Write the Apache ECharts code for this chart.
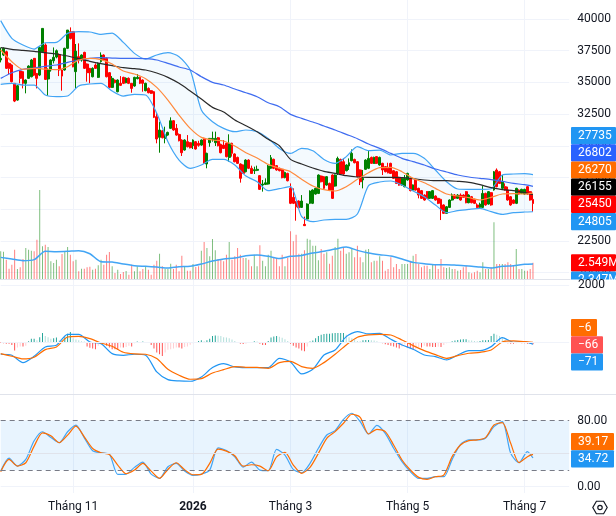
<!DOCTYPE html>
<html><head><meta charset="utf-8">
<style>html,body{margin:0;padding:0;background:#fff}#c{width:616px;height:516px}</style>
<script src="https://cdn.jsdelivr.net/npm/echarts@6/dist/echarts.min.js"></script>
</head><body><div id="c"></div>
<script>
const opens=[36770,37160,37420,36500,36370,34930,33610,35900,35850,34930,
35320,35450,36900,35710,35580,37420,37950,35270,35980,36710,
37000,37210,35980,35980,37690,39000,39000,35850,37030,36770,
37370,36450,36110,35450,36370,35400,36640,37160,36900,35770,
34610,35190,34270,34930,35400,34980,35320,34930,34720,35300,
35400,35190,34350,34530,34350,34270,32300,30670,31190,30590,
30850,31380,31980,31380,30900,30460,29670,30330,30250,30010,
30330,30200,30060,30590,28570,30250,30510,30250,30640,30120,
30060,30200,29090,30200,29360,29090,28570,28490,27960,28880,
28230,28040,28070,27650,26910,26960,26990,28230,28940,28440,
28230,28150,27490,27830,26650,25940,25600,25650,25150,23810,
24230,25470,25470,26200,26250,27620,27570,26910,27040,27700,
26830,27830,28930,28750,28040,28410,28830,28930,28750,28100,
27310,28150,28230,29090,28620,29150,28490,28620,28360,28230,
28620,28040,27960,27520,26910,26780,27310,27440,26520,27310,
26650,26470,26120,26390,25860,25860,26040,25860,25780,25340,
24680,25150,25730,26120,25860,26120,26120,26390,25520,25990,
25780,25340,25150,25150,26250,25410,26310,26520,28090,27960,
26650,26780,26520,25990,25730,25470,26520,26250,26200,26780,
26390,25780];
const closes=[36900,37690,36110,36110,35060,33530,34740,35320,34930,35190,
36290,36770,35580,35320,37760,39260,35240,35980,36770,36980,
37500,35980,35500,37690,39130,38470,36240,37470,36770,37160,
36110,35770,35770,36110,36110,36500,37160,36770,35450,34610,
35320,34980,35190,34770,34930,35320,34930,34530,35400,35400,
34930,34930,34930,34190,34140,32250,30540,31250,30640,30850,
31060,31980,31250,30850,30410,29460,30460,29930,29850,30460,
29750,30040,30460,28620,29410,30590,30590,30590,30010,29460,
29800,29150,30200,29410,28750,28620,27440,27830,28880,28230,
27830,28120,28150,26570,26990,27090,28410,29070,28230,28100,
28040,27490,27910,27250,25470,25470,25200,25120,25650,23710,
25410,26440,26520,26650,27700,27170,26650,27570,26520,25860,
27700,29010,27780,27780,28490,28670,29410,28670,27570,27170,
27440,28880,29010,28620,29090,28620,29090,28100,27960,27880,
27830,27440,27040,26910,27440,27440,27830,26470,26910,26520,
26120,25860,25730,25860,26390,26470,25730,25470,24940,24680,
25200,25730,26120,25860,26120,25730,25940,25520,26120,25520,
25470,25150,25410,26250,25340,26390,25340,27960,26780,27040,
27170,26520,25730,25340,25470,26650,26200,26570,26570,26200,
25730,25450];
const highs=[37740,37760,37500,36580,36420,34930,34800,35900,35900,35240,
36350,36850,36920,35710,37820,39290,38080,36110,36820,37760,
37600,37290,36030,37740,39130,39340,39050,38030,38080,37210,
37420,36500,36110,36190,36500,36580,37370,37210,36980,35820,
35500,35240,35240,35500,35450,35400,35400,34930,35450,35660,
35450,35240,34980,34610,34400,34320,32610,31900,31250,31510,
31120,32250,32030,31720,30980,30510,30510,30850,30300,30510,
30380,30400,30510,30640,29460,30590,31120,31120,30700,30170,
30460,30250,30910,30250,29410,29150,28620,28540,28940,28940,
28440,28360,28440,27700,27310,27440,28490,29280,28990,28490,
28280,28200,27960,27880,27040,26650,25650,25700,26120,24420,
25470,26490,26570,26700,27750,27670,27620,27620,27100,27750,
27750,29150,28990,29010,28540,29010,29720,28990,28800,28150,
28100,28940,29670,29150,29150,29200,29150,28670,28410,28670,
28670,28100,28020,27570,27490,27700,27880,27490,26960,27360,
26700,26520,26180,26440,26440,26520,26100,25910,25830,25390,
25260,25780,26250,26200,26200,26250,26180,26440,26180,26050,
25830,25470,25520,26830,26310,26440,26360,28020,28220,28020,
27700,27040,26780,26050,25780,26700,26570,26620,26620,26830,
26440,26120];
const lows=[36580,37080,36060,35660,35000,33450,33560,34930,34530,34140,
35270,35400,35500,34530,35500,37340,35190,33950,35850,36500,
36900,35500,34350,35930,37630,38390,36190,34530,36500,36640,
36060,35060,34930,35400,36060,35350,36560,36690,35400,34560,
34560,34930,34220,34720,34870,34930,34870,34190,34660,35240,
34870,34270,34300,34140,34090,32190,30200,29460,30590,30200,
30800,31330,31190,30800,30350,29200,29620,29880,29800,29750,
29700,29930,30010,28570,28230,29930,30330,29990,29960,29410,
29750,29090,28750,29150,28700,28570,27100,27780,27910,28170,
27780,27780,28010,26520,26390,26910,26940,28170,28170,28040,
27990,27440,27440,27200,25410,25410,24100,25070,25100,23680,
24200,25410,25410,26150,26200,27120,26600,26860,26470,25810,
26780,27700,27730,27730,27990,28100,28780,28620,27520,26910,
26650,28100,28170,28570,28570,28570,28440,27700,27910,27830,
27780,27390,26990,26860,26860,26730,27250,26410,26470,26470,
25860,25810,25680,25810,25810,25810,25680,25410,24150,24630,
24630,25100,25680,25810,25810,25680,25890,25470,25470,25470,
25410,25100,25050,25100,25280,25360,25280,26470,26730,26990,
26600,26470,25680,25280,25410,25410,26150,26200,26150,26150,
25680,24810];
// volumes in millions
const volumes=[4.32,4.27,3.02,1.61,2.24,4.58,1.56,1.82,3.13,4.84,
4.58,4.43,4.32,6.15,13.9,5.10,5.36,5.0,2.76,2.5,
3.02,1.98,3.91,4.32,5.0,3.8,2.76,3.02,1.2,1.61,
1.61,1.82,1.93,1.46,1.61,2.14,3.02,2.24,3.8,4.22,
1.98,.94,1.46,.78,1.09,1.25,.68,2.24,1.2,1.98,
1.2,1.56,1.98,1.46,.68,2.24,2.86,3.96,1.98,1.56,
1.56,2.4,1.56,2.24,1.2,3.65,1.98,1.3,1.3,2.34,
1.88,1.98,4.43,5.78,4.84,3.54,6.25,4.48,3.13,3.02,
2.76,3.8,5.78,3.02,3.54,4.84,3.8,3.28,3.28,3.02,
1.98,3.8,1.98,5.26,2.86,1.98,3.8,4.43,3.28,3.28,
1.98,3.8,1.98,3.28,7.45,5.89,6.93,3.96,
3.96,4.48,6.3,6.15,5.21,5.21,2.92,4.69,3.96,4.17,2.4,3.65,5.0,6.3,4.43,5.0,3.96,4.17,4.69,3.39,5.21,3.39,2.6,4.58,4.69,2.6,2.86,2.86,3.54,2.86,1.3,1.56,3.39,1.82,2.34,1.56,2.34,2.34,2.34,2.86,3.65,3.91,2.34,1.82,2.08,2.08,1.56,2.34,2.24,1.56,3.13,1.82,1.72,1.82,1.56,1.56,1.3,1.41,1.82,2.08,1.04,.89,1.04,1.3,1.04,2.6,1.56,1.56,1.82,8.85,2.34,2.34,2.34,2.34,2.6,2.34,2.08,4.69,1.56,1.56,1.3,1.3,1.56,2.549];
// sampled every 4 bars (last sample = last bar)
const bbUpper=[39870,38475,37950,37630,38130,38160,38870,39000,38975,38790,38895,38160,37290,36845,37160,37345,37030,35980,32825,31900,31380,31115,31250,31115,30590,29800,
29409,29800,29620,28930,28620,29150,29935,29620,29670,29280,29410,29410,29015,28095,27175,26600,26570,26570,26620,27700,27780,27805,27735];
const bbLower=[34850,34927,34795,34795,34007,33876,33930,34717,34875,34927,34322,33928,34060,34007,32562,30328,28883,28226,28488,28935,28935,28488,27621,27174,26465,26622,
26781,24416,24022,24153,24206,24206,24626,26860,27149,27228,26912,26439,25993,25336,24731,24889,24994,25073,24810,24600,24731,24784,24805];
const maOrange=[37555,36635,36030,36110,36055,36005,36240,36767,36898,36793,36451,35900,35663,35295,34612,33613,32430,31380,30670,30460,30380,29985,29460,29040,28540,28225,
27964,27359,26834,26544,26439,26781,27359,27885,28279,28305,27964,27438,27097,26650,26203,26045,25914,25730,25940,26203,26229,26203,26270];
const maBlack=[37739,37607,37529,37450,37345,37240,37082,36872,36662,36478,36320,36162,36083,35978,35742,35400,34927,34322,33692,33035,32667,32036,31590,31116,30512,30013,
28936,28568,28253,27990,27832,27648,27543,27517,27517,27517,27490,27412,27307,27254,27254,27201,27123,26939,26702,26545,26466,26308,26155];
const maBlue=[35321,35768,36030,36136,36267,36372,36583,36767,36898,36950,36924,36898,36898,36872,36767,36504,36215,35978,35453,35006,34796,34480,34191,33876,33403,33087,
32484,32168,31879,31564,31249,30907,30565,30145,29803,29409,29015,28752,28489,28174,27937,27700,27543,27438,27333,27201,27044,26939,26802];
const volMA=[3.38,3.12,2.86,3.02,4.32,4.26,4.32,4.42,3.95,2.7,2.65,2.34,2.08,1.98,1.87,1.72,1.92,1.98,2.34,2.81,3.12,3.28,3.64,3.74,3.54,3.22,3.54,3.69,4.06,4.32,4.68,5.0,4.47,4.06,3.8,3.59,3.12,2.6,2.39,2.24,2.24,2.13,2.03,1.87,1.72,1.98,2.08,2.29,2.347];
const macdLine=[-419,-454,-711,-489,-163,-105,280,280,12,-47,-396,-454,-419,-454,-1037,-1305,-1351,-1363,-1212,-885,-746,-862,-885,-885,-885,-559,-687,
-1107,-944,-443,-268,198,373,291,315,105,-93,-245,-443,-501,-617,-443,-291,-291,-151,163,0,23,-71];
const signalLine=[-396,-489,-583,-524,-256,-163,186,210,128,-23,-140,-350,-408,-419,-571,-944,-1153,-1293,-1270,-1072,-955,-850,-874,-874,-909,-711,-664,
-850,-909,-711,-419,-93,175,256,280,256,82,-116,-291,-431,-559,-466,-384,-350,-268,12,47,23,-6];
const macdHist=[-24,-36,-48,-48,-96,-288,-180,-144,-144,-120,
36,120,120,72,180,324,216,180,120,144,
168,72,60,180,300,360,144,96,72,36,
24,-144,-192,-216,-240,-120,-48,-24,-120,-180,
-240,-240,-264,-180,-180,-168,-120,-144,-36,24,
-12,24,12,-24,-96,-216,-360,-420,-480,-360,
-264,-240,-216,-180,-180,-216,-168,-144,-84,-36,
12,48,72,36,72,120,216,240,228,216,
180,168,144,96,48,-24,-48,-60,-48,-24,
0,36,24,-48,-96,-96,48,168,204,216,
192,156,108,48,-48,-120,-180,-216,
-288,-312,-144,24,60,144,216,264,288,300,300,312,324,324,324,324,264,180,144,96,48,36,72,84,84,72,60,36,12,-36,-72,-96,-120,-144,-180,-216,-144,-72,-180,-216,-264,-240,-168,-180,-120,-144,-144,-168,-168,-156,-168,-96,-36,0,36,60,84,96,108,108,72,60,48,36,48,72,72,84,216,300,264,216,144,84,-36,-48,-48,-36,-24,-36,-36,-48,-60,-66];
// sampled every 3 bars (last sample = last bar)
const stochK=[18.9,34.6,25,33,55.6,66.5,59.6,53.2,66.5,74.5,59.2,43.5,41.1,39.5,14.9,15.3,23.4,29.8,15.3,10.1,24.2,28.2,18.9,13.7,15.3,20.1,47.1,43.9,36.2,23.8,29.8,20.1,19.3,45.1,38.3,20.9,16.9,
28.3,46.5,62.6,67.9,81.6,88.9,78.8,63.8,74.3,64.6,46.5,30.3,18.2,10.1,10.1,12.1,12.1,33.1,51.3,56.6,56.6,59,72.7,78.8,40.4,29.1,42.4,34.72];
const stochD=[18.1,33,25,29,49.1,65.2,61.6,53.2,62.4,73.3,60.4,46.3,41.1,39.1,26.2,15.7,20.1,28.2,18.9,10.1,20.9,29,20.5,14.5,14.9,28.2,45.5,43.1,37.5,25,26.6,25,19.3,36.2,41.5,26.2,16.1,
23.4,40.4,58.6,66.7,76.8,87.7,84,63.8,69.5,66.7,50.5,32.3,20.2,11.3,8.9,12.1,14.1,36.4,50.5,55.8,56.6,59.4,74.7,77.6,52.5,29.1,36.4,39.17];
const tickBars=[26,69,104,146,188];
const tickLabels=['Tháng 11','2026','Tháng 3','Tháng 5','Tháng 7'];
const priceTags=[['27735','#2196f3'],['26802','#2962ff'],['26270','#ff6d00'],['26155','#000000'],['25450','#ff0000'],['24805','#2196f3']];
const volumeTags=[['2.549M','#ff0000'],['2.347M','#2196f3']];
const macdTags=[['−6','#ff6d00',26],['−66','#ff5252',32],['−71','#2196f3',32]];
const stochTags=[['39.17','#ff6d00'],['34.72','#2196f3']];

const FONT='Roboto',TXT='#131722',GRID='#f0f3fa',FS=12,LW=1.2;
const total=205,n=opens.length;
const cats=Array.from({length:total},(_,i)=>{const k=tickBars.indexOf(i);return k>=0?tickLabels[k]:String(i)});
const sampled=(arr,step)=>arr.map((v,k)=>[k===arr.length-1?n-1:k*step,v]);
const isTick=i=>tickBars.includes(i);
const gridL=0.7,gridW=568.5;
const grids=[{top:-12.7,height:285.4},{top:179,height:100},{top:280,height:114},{top:395,height:98}].map(g=>({...g,left:gridL,width:gridW,outerBoundsMode:'none'}));
const xAxes=grids.map((g,k)=>({type:'category',gridIndex:k,data:cats,boundaryGap:false,axisLine:{show:false},axisTick:{show:false},
  axisLabel:k===3?{show:true,interval:(i)=>isTick(i),margin:8,color:TXT,fontFamily:FONT,fontSize:FS,
    formatter:v=>v==='2026'?'{b|2026}':v,rich:{b:{fontWeight:'bold',color:TXT,fontFamily:FONT,fontSize:FS}}}:{show:false},
  splitLine:k===1?{show:false}:{show:true,interval:(i)=>isTick(i),lineStyle:{color:GRID,width:1}}}));
const yLabel={color:TXT,fontFamily:FONT,fontSize:FS,margin:8};
const yAxes=[
 {type:'value',gridIndex:0,position:'right',min:20000,max:42500,interval:2500,axisLine:{show:false},axisTick:{show:false},
  axisLabel:{...yLabel,showMaxLabel:false,formatter:v=>String(v)},splitLine:{lineStyle:{color:GRID,width:1}}},
 {type:'value',gridIndex:1,min:0,max:15.625,show:false,splitLine:{show:false}},
 {type:'value',gridIndex:2,min:-1808,max:2178,show:false,splitLine:{show:false}},
 {type:'value',gridIndex:3,position:'right',min:-7.6,max:111,axisLine:{show:false},axisTick:{show:false},splitLine:{show:false},
   axisLabel:{...yLabel,customValues:[0,80],formatter:v=>v.toFixed(2)}}
];
const line=(name,data,color,x,w=LW,extra={})=>({type:'line',name,data,xAxisIndex:x,yAxisIndex:x,showSymbol:false,smooth:0.25,lineStyle:{color,width:w},itemStyle:{color},silent:true,...extra});
const histColor=(v,i)=>{const p=i?macdHist[i-1]:v;return v>=0?(v>=p?'#26a69a':'#b2dfdb'):(v<=p?'#ff5252':'#ffcdd2')};
const series=[
 {type:'bar',xAxisIndex:1,yAxisIndex:1,barWidth:1,silent:true,z:1,
  data:volumes.map((v,i)=>({value:v,itemStyle:{color:closes[i]>=opens[i]?'rgba(0,128,0,.5)':'rgba(255,0,0,.5)'}}))},
 line('bbBase',sampled(bbLower,4),'transparent',0,0,{stack:'bb',z:2}),
 line('bbFill',sampled(bbUpper.map((v,i)=>v-bbLower[i]),4),'transparent',0,0,{stack:'bb',z:2,areaStyle:{color:'rgba(33,150,243,.05)',opacity:1}}),
 {type:'candlestick',xAxisIndex:0,yAxisIndex:0,barWidth:2.4,silent:true,z:3,
  data:opens.map((o,i)=>[o,closes[i],lows[i],highs[i]]),
  itemStyle:{color:'#008000',color0:'#ff0000',borderColor:'#008000',borderColor0:'#ff0000',borderWidth:1}},
 line('upper',sampled(bbUpper,4),'#42a5f5',0,LW,{z:4}),
 line('lower',sampled(bbLower,4),'#42a5f5',0,LW,{z:4}),
 line('maBlue',sampled(maBlue,4),'#3f6cf0',0,LW,{z:4}),
 line('maBlack',sampled(maBlack,4),'#2a2a2a',0,LW,{z:4}),
 line('maOrange',sampled(maOrange,4),'#ff8a3d',0,LW,{z:4}),
 line('volMA',sampled(volMA,4),'#42a5f5',1,1.5,{z:4}),
 {type:'bar',xAxisIndex:2,yAxisIndex:2,barWidth:1,silent:true,z:1,
  data:macdHist.map((v,i)=>({value:v,itemStyle:{color:histColor(v,i)}})),
  markLine:{silent:true,symbol:'none',label:{show:false},lineStyle:{color:GRID,width:1,type:'solid'},data:[{yAxis:0},{yAxis:2000}]}},
 line('macd',sampled(macdLine,4),'#2196f3',2,LW,{z:4}),
 line('signal',sampled(signalLine,4),'#ff6d00',2,LW,{z:4}),
 line('k',sampled(stochK,3),'#42a5f5',3,LW,{z:4,
  markArea:{silent:true,itemStyle:{color:'rgba(33,150,243,.1)'},data:[[{yAxis:80},{yAxis:20}]]},
  markLine:{silent:true,symbol:'none',label:{show:false},data:[
    {yAxis:0,lineStyle:{color:GRID,width:1,type:'solid'}},{yAxis:40,lineStyle:{color:'#e0e3eb',width:1,type:'solid'}},
    {yAxis:80,lineStyle:{color:'#787b86',width:1,type:[5,4]}},{yAxis:20,lineStyle:{color:'#787b86',width:1,type:[5,4]}}]}}),
 line('d',sampled(stochD,3),'#ff6d00',3,LW,{z:4})
];
const BOX_X=571,H=17.2;
const tag=(label,color,y,w,h=H)=>[
  {type:'rect',shape:{x:BOX_X,y,width:w,height:h,r:1},style:{fill:color},z:50},
  {type:'text',x:BOX_X+7,y:y+H/2,style:{text:label,fill:'#fff',font:`${FS}px ${FONT}`,textVerticalAlign:'middle'},z:51}];
const graphic=[];
priceTags.forEach((t,k)=>graphic.push(...tag(t[0],t[1],127+k*H,45)));
graphic.push(...tag(volumeTags[0][0],volumeTags[0][1],254.3,45));
graphic.push(...tag(volumeTags[1][0],volumeTags[1][1],271.5,45));
graphic.push({type:'rect',shape:{x:570,y:279.6,width:46,height:12},style:{fill:'#fff'},z:52});
graphic.push({type:'text',x:578,y:284.5,style:{text:'2000',fill:TXT,font:`${FS}px ${FONT}`,textVerticalAlign:'middle'},z:53});
macdTags.forEach((t,k)=>graphic.push(...tag(t[0],t[1],319+k*H,t[2])));
stochTags.forEach((t,k)=>graphic.push(...tag(t[0],t[1],433+k*H,43)));
[279.5,394.5].forEach(y=>graphic.push({type:'line',shape:{x1:0,y1:y,x2:616,y2:y},style:{stroke:'#e0e3eb',lineWidth:1},z:49}));
const hexPts=[];for(let a=0;a<6;a++){const t=a*Math.PI/3;hexPts.push([600+7.2*Math.cos(t),507.5+7.2*Math.sin(t)])}
graphic.push({type:'polygon',shape:{points:hexPts},style:{fill:'#fff',stroke:TXT,lineWidth:1.2},z:50});
graphic.push({type:'circle',shape:{cx:600,cy:507.5,r:2.2},style:{fill:'#fff',stroke:TXT,lineWidth:1.2},z:51});
const chart=echarts.init(document.getElementById('c'),null,{renderer:'canvas',width:616,height:516});
chart.setOption({animation:false,backgroundColor:'#ffffff',grid:grids,xAxis:xAxes,yAxis:yAxes,series,graphic});
</script></body></html>
